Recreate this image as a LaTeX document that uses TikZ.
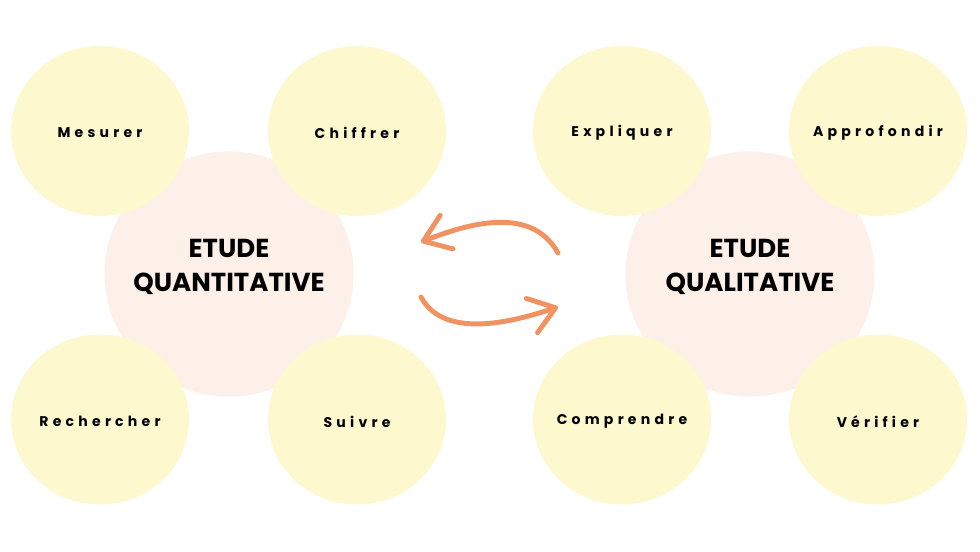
\documentclass[tikz,border=0pt]{standalone}
\usepackage{fontspec}
\setmainfont{Poppins}
\newfontfamily\spaced[LetterSpace=30]{Poppins}
\usepackage{tikz}
\usetikzlibrary{arrows.meta,shapes.geometric}
\definecolor{jaune}{RGB}{254,248,206}
\definecolor{peche}{RGB}{253,240,232}
\definecolor{fleche}{RGB}{241,146,98}
\begin{document}
\begin{tikzpicture}[>=Stealth,
  etude/.style={ellipse,fill=peche,minimum width=4.98cm,minimum height=4.9cm,inner sep=0pt},
  titre/.style={align=center,font=\bfseries\fontsize{14.8}{19}\selectfont},
  verbe/.style={ellipse,fill=jaune,minimum width=3.56cm,minimum height=3.4cm,inner sep=0pt},
  mot/.style={font=\spaced\bfseries\fontsize{8}{10}\selectfont,yshift=-0.04cm},
  fl/.style={draw=fleche,line width=2.8pt,line cap=round,-{Straight Barb[length=0.5cm,width=0.72cm,round]}}]
  \useasboundingbox[fill=white] (0,0) rectangle (19.6,11.04);
  % grands cercles
  \node[etude,label={[titre,yshift=0.14cm]center:ETUDE\\QUANTITATIVE}](quanti) at (4.58,5.56){};
  \node[etude,label={[titre,yshift=0.14cm]center:ETUDE\\QUALITATIVE}](quali) at (15.0,5.56){};
  % petits cercles
  \node[verbe,label={[mot]center:Mesurer}](mes) at (2.0,8.42){};
  \node[verbe,label={[mot]center:Chiffrer}](chif) at (7.14,8.42){};
  \node[verbe,label={[mot]center:Rechercher}](rech) at (2.0,2.65){};
  \node[verbe,label={[mot]center:Suivre}](suiv) at (7.14,2.65){};
  \node[verbe,label={[mot]center:Expliquer}](expl) at (12.44,8.42){};
  \node[verbe,label={[mot]center:Approfondir}](appr) at (17.56,8.42){};
  \node[verbe,label={[mot]center:Comprendre}](comp) at (12.44,2.65){};
  \node[verbe,label={[mot]center:Vérifier}](veri) at (17.56,2.65){};
  % fleches
  \coordinate (h1) at (11.16,5.98);
  \coordinate (h2) at (8.42,6.2);
  \coordinate (b1) at (8.42,5.1);
  \coordinate (b2) at (11.16,4.9);
  \draw[fl] (h1) .. controls (10.6,7.0) and (9.2,6.5) .. (h2);
  \draw[fl] (b1) .. controls (8.9,4.2) and (10.4,4.65) .. (b2);
\end{tikzpicture}
\end{document}
